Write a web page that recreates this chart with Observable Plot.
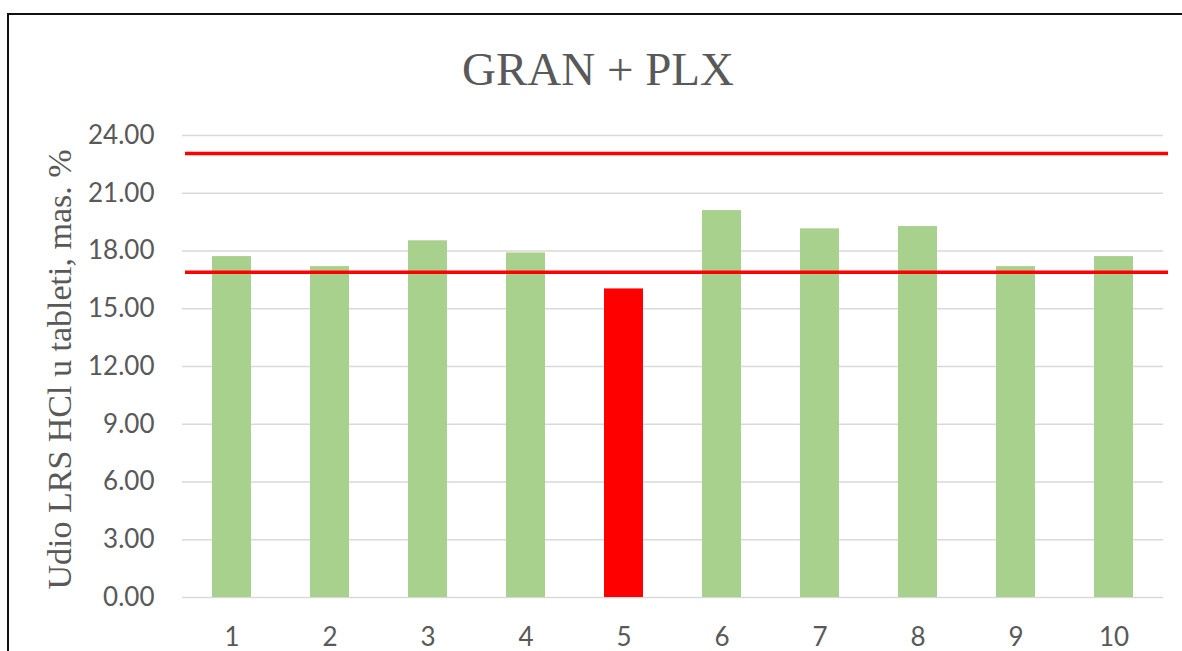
<!DOCTYPE html>
<html>
<head>
<meta charset="utf-8">
<script src="https://cdn.jsdelivr.net/npm/d3@7"></script>
<script src="https://cdn.jsdelivr.net/npm/@observablehq/plot@0.6"></script>
<style>
  html, body { margin: 0; padding: 0; background: #fff; overflow: hidden; }
  #wrap { position: relative; width: 1182px; height: 651px; }
  #border { position: absolute; left: 7px; top: 13px; width: 1300px; height: 800px;
            border-left: 2px solid #111; border-top: 2px solid #111; box-sizing: border-box; }
  #chart { position: absolute; left: 0; top: 0; }
</style>
</head>
<body>
<div id="wrap"><div id="border"></div><div id="chart"></div></div>
<script>
const title = "GRAN + PLX";
const yLabel = "Udio LRS HCl u tableti, mas. %";
const samples = [1, 2, 3, 4, 5, 6, 7, 8, 9, 10];
const values = [17.71, 17.19, 18.53, 17.9, 16.03, 20.1, 19.15, 19.27, 17.19, 17.71];
const limits = [23.06, 16.9];
const yTicks = [0, 3, 6, 9, 12, 15, 18, 21, 24];

const lower = Math.min(...limits), upper = Math.max(...limits);
const data = samples.map((s, i) => ({
  sample: s, value: values[i],
  status: (values[i] < lower || values[i] > upper) ? "out" : "in"
}));

const textColor = "#595959";
const plot = Plot.plot({
  width: 1182, height: 651,
  marginLeft: 182, marginRight: 19, marginTop: 135, marginBottom: 54,
  style: { background: "transparent", color: textColor },
  x: { domain: samples, paddingInner: 0.6, paddingOuter: 0.3, label: null },
  y: { domain: [0, 24], ticks: yTicks, label: null },
  color: { domain: ["in", "out"], range: ["#A9D18E", "#FF0000"] },
  marks: [
    Plot.gridY(yTicks, { stroke: "#D9D9D9", strokeOpacity: 1, strokeWidth: 1.5 }),
    Plot.barY(data, { x: "sample", y: "value", fill: "status" }),
    Plot.ruleY(limits, { stroke: "#FF0000", strokeWidth: 3.5, insetLeft: 3, insetRight: -5 }),
    Plot.axisY(yTicks, { tickSize: 0, tickPadding: 28, tickFormat: d => d.toFixed(2),
      fontSize: 26, fontFamily: "Lato", fill: textColor }),
    Plot.axisX(samples, { tickSize: 0, tickPadding: 30, fontSize: 26, fontFamily: "Lato", fill: textColor, label: null }),
    Plot.text([title], { frameAnchor: "top", dx: -75, dy: -66, lineAnchor: "middle",
      fontSize: 47, fontFamily: "Liberation Serif", fill: textColor }),
    Plot.text([yLabel], { frameAnchor: "left", dx: -122, dy: 3, rotate: -90, lineAnchor: "middle",
      textAnchor: "middle", fontSize: 34, fontFamily: "Liberation Serif", fill: textColor })
  ]
});
document.getElementById("chart").appendChild(plot);
</script>
</body>
</html>
